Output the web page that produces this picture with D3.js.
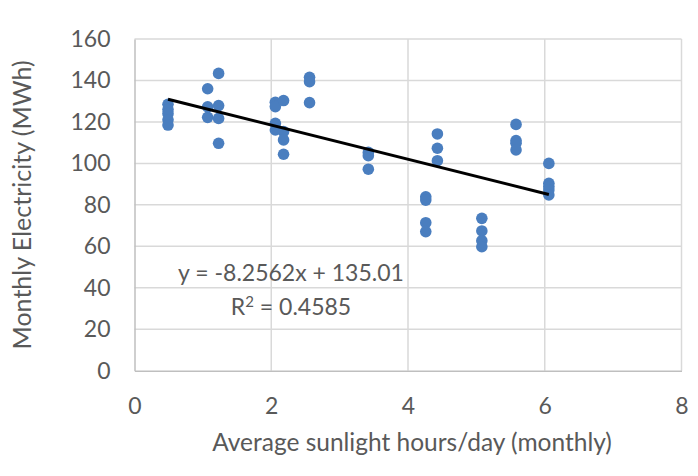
<!DOCTYPE html>
<html><head><meta charset="utf-8">
<script src="https://cdn.jsdelivr.net/npm/d3@7"></script>
<style>html,body{margin:0;padding:0;background:#fff;}text{font-family:Lato,"Open Sans",sans-serif;fill:#595959;}</style>
</head><body><svg id="c" width="698" height="476"></svg>
<script>
const xTicks = [0,2,4,6,8];
const yTicks = [0,20,40,60,80,100,120,140,160];
const sunHours = [0.49,0.49,0.49,0.49,0.49,
  1.07,1.07,1.07, 1.23,1.23,1.23,1.23,
  2.06,2.06,2.06,2.06, 2.18,2.18,2.18,2.18, 2.56,2.56,2.56,
  3.42,3.42,3.42, 4.26,4.26,4.26,4.26, 4.43,4.43,4.43,
  5.08,5.08,5.08,5.08, 5.58,5.58,5.58,5.58,
  6.06,6.06,6.06,6.06,6.06];
const electricity = [128.5,126,124,121,118.5,
  136,127.3,122.2, 143.4,127.9,121.7,109.7,
  129.5,127.4,119.3,116.1, 130.3,115.3,111.3,104.4, 141.5,139.4,129.3,
  105.3,103.7,97.2, 83.9,82.3,71.4,67.1, 114.2,107.3,101.3,
  73.5,67.4,62.7,59.8, 118.8,111,109.7,106.5,
  100,90.4,88.8,87.2,84.8];
const slope = -8.2562, intercept = 135.01, r2 = "0.4585";
const xTitle = "Average sunlight hours/day (monthly)";
const yTitle = "Monthly Electricity (MWh)";

const svg = d3.select("#c");
const L = 134.5, R = 681.5, T = 39, B = 370.7;
const x = d3.scaleLinear().domain([0,8]).range([L,R]);
const y = d3.scaleLinear().domain([0,160]).range([B,T]);

// gridlines
svg.append("g").selectAll("line.h").data(yTicks.filter(d=>d>0)).join("line")
  .attr("x1",L).attr("x2",R).attr("y1",d=>y(d)).attr("y2",d=>y(d))
  .attr("stroke","#d9d9d9").attr("stroke-width",1.5);
svg.append("g").selectAll("line.v").data(xTicks.filter(d=>d>0)).join("line")
  .attr("y1",T).attr("y2",B).attr("x1",d=>x(d)).attr("x2",d=>x(d))
  .attr("stroke","#d9d9d9").attr("stroke-width",1.5);

// axes
const xAxis = d3.axisBottom(x).tickValues(xTicks).tickSize(0).tickPadding(27);
const gx = svg.append("g").attr("transform",`translate(0,${B})`).call(xAxis);
gx.select(".domain").attr("stroke","#bfbfbf").attr("stroke-width",1.5);
gx.selectAll("text").style("font-size","23px").attr("fill","#595959");
const yAxis = d3.axisLeft(y).tickValues(yTicks).tickSize(0).tickPadding(24);
const gy = svg.append("g").attr("transform",`translate(${L},0)`).call(yAxis);
gy.select(".domain").attr("stroke","#bfbfbf").attr("stroke-width",1.5);
gy.selectAll("text").style("font-size","23px").attr("fill","#595959");

// points
svg.append("g").selectAll("circle").data(sunHours.map((h,i)=>[h,electricity[i]])).join("circle")
  .attr("cx",d=>x(d[0])).attr("cy",d=>y(d[1])).attr("r",5.8).attr("fill","#4a7ebf");

// trendline
const x0 = d3.min(sunHours), x1 = d3.max(sunHours);
svg.append("line").attr("x1",x(x0)).attr("y1",y(slope*x0+intercept))
  .attr("x2",x(x1)).attr("y2",y(slope*x1+intercept))
  .attr("stroke","#000").attr("stroke-width",3);

// equation
svg.append("text").attr("x",291).attr("y",281).attr("text-anchor","middle")
  .style("font-size","23px").text(`y = ${slope}x + ${intercept}`);
const rt = svg.append("text").attr("x",291).attr("y",315).attr("text-anchor","middle").style("font-size","23px");
rt.append("tspan").text("R");
rt.append("tspan").attr("dy",-8).style("font-size","15px").text("2");
rt.append("tspan").attr("dy",8).text(" = " + r2);

// titles
svg.append("text").attr("x",(L+R)/2 + 4).attr("y",451).attr("text-anchor","middle")
  .style("font-size","24.5px").text(xTitle);
svg.append("text").attr("transform",`translate(31,${(T+B)/2}) rotate(-90)`).attr("text-anchor","middle")
  .style("font-size","25px").text(yTitle);
</script></body></html>
